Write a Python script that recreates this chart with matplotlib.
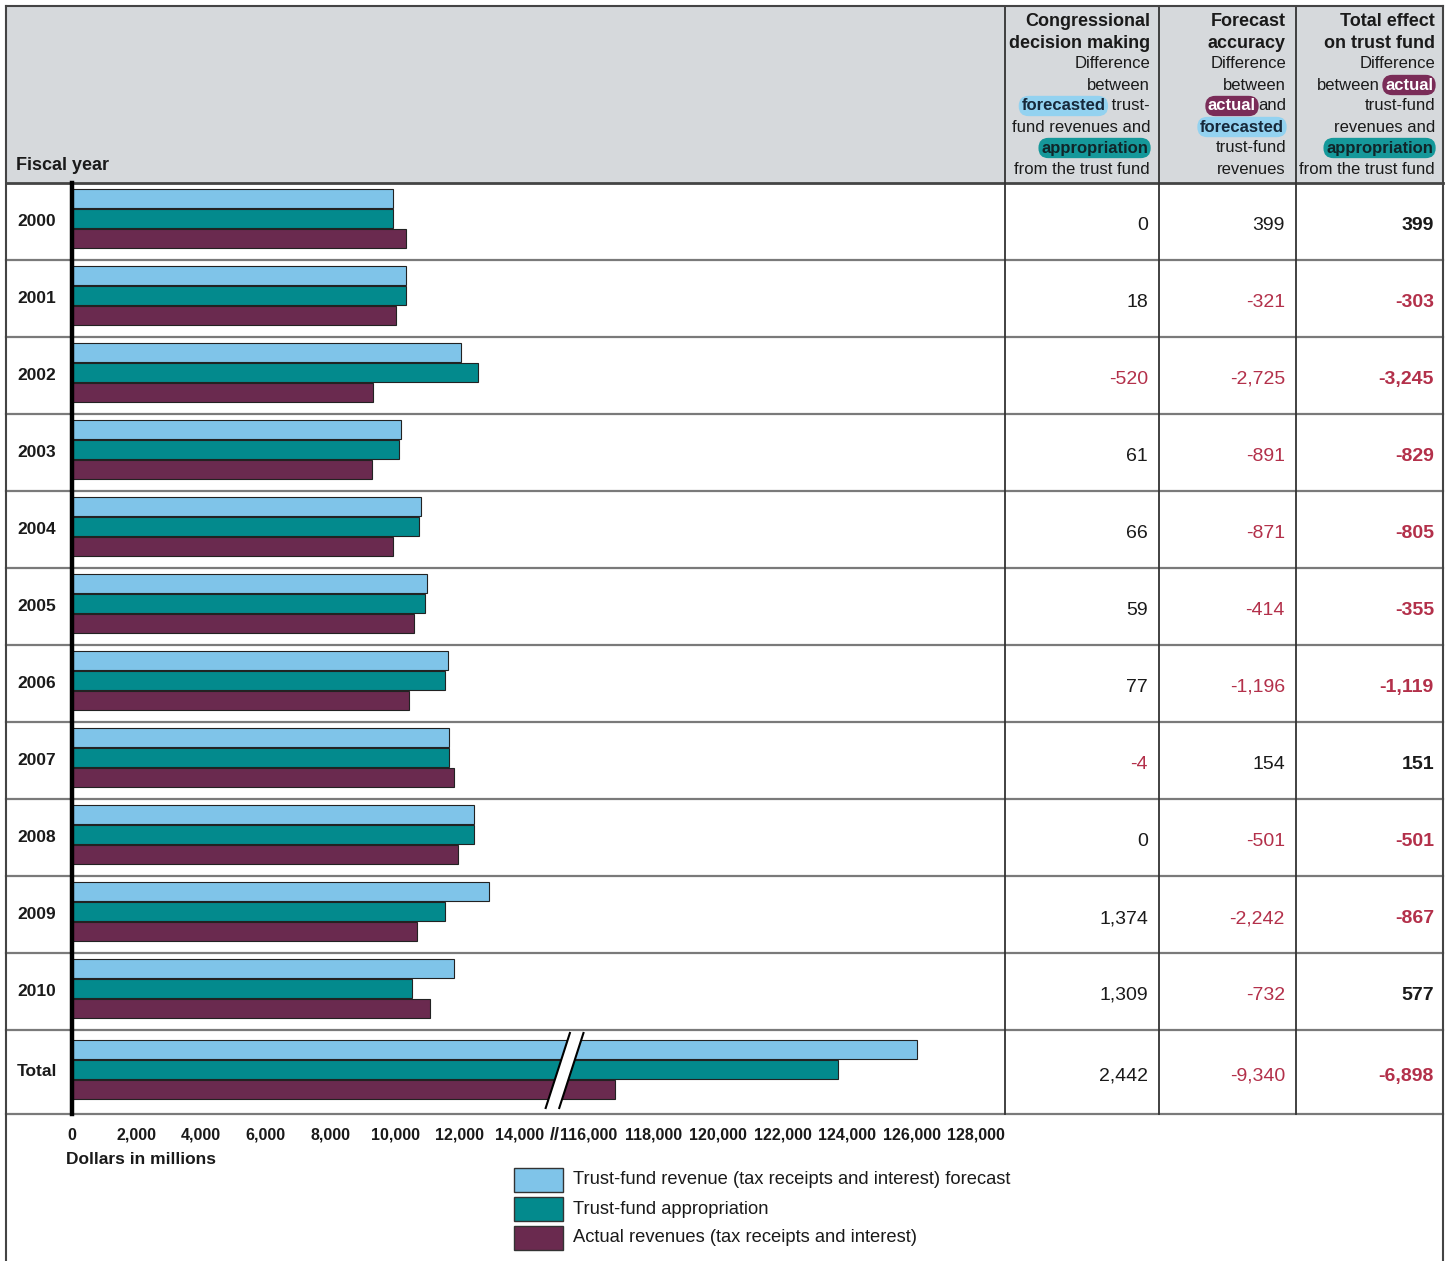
import matplotlib.pyplot as plt
from matplotlib.patches import Rectangle, Polygon

plt.rcParams['font.family'] = ['Liberation Sans', 'DejaVu Sans']

# data (dollars in millions)
years = ['2000', '2001', '2002', '2003', '2004', '2005', '2006', '2007', '2008', '2009', '2010', 'Total']
forecast = [9950, 10345, 12050, 10190, 10810, 11000, 11640, 11680, 12450, 12910, 11830, 126150]
appropriation = [9950, 10327, 12570, 10129, 10744, 10941, 11563, 11684, 12450, 11536, 10521, 123700]
actual = [10349, 10024, 9325, 9299, 9939, 10586, 10444, 11834, 11949, 10668, 11098, 116810]

congress_diff = [0, 18, -520, 61, 66, 59, 77, -4, 0, 1374, 1309, 2442]
accuracy_diff = [399, -321, -2725, -891, -871, -414, -1196, 154, -501, -2242, -732, -9340]
total_diff = [399, -303, -3245, -829, -805, -355, -1119, 151, -501, -867, 577, -6898]

tick_values = [0, 2000, 4000, 6000, 8000, 10000, 12000, 14000,
               116000, 118000, 120000, 122000, 124000, 126000, 128000]

legend_labels = ['Trust-fund revenue (tax receipts and interest) forecast',
                 'Trust-fund appropriation',
                 'Actual revenues (tax receipts and interest)']

LIGHT = '#7fc4e9'
TEAL = '#038a8d'
MAROON = '#6a2a4f'
HEADER_BG = '#d6d9dc'
RED = '#b3304a'
INK = '#1a1a1a'

# axis break: values past 100,000 are drawn 100,000 to the left
BREAK_SHIFT = 100000
BREAK_AT = 15250


def squeeze(v):
    return v - BREAK_SHIFT if v > BREAK_SHIFT else v


def fmt(v):
    return '{:,}'.format(v)


W, H = 1452, 1261
fig = plt.figure(figsize=(W / 100, H / 100), dpi=100)

# full-figure pixel frame for the table
frame = fig.add_axes([0, 0, 1, 1])
frame.set_xlim(0, W)
frame.set_ylim(H, 0)
frame.axis('off')

left, right, top, header_bottom, table_bottom = 6, 1443, 6, 183, 1114
col_lines = [1005, 1159, 1296]
row_edges = [header_bottom + 77 * i for i in range(12)] + [table_bottom]

frame.add_patch(Rectangle((left, top), right - left, header_bottom - top,
                          fc=HEADER_BG, ec='none', zorder=0))
for y in row_edges[1:]:
    frame.plot([left, right], [y, y], color='#7a7a7a', lw=1.6, zorder=1)
frame.plot([left, right], [header_bottom, header_bottom], color='#444444', lw=2, zorder=1)
for x in col_lines:
    frame.plot([x, x], [top, table_bottom], color='#333333', lw=1.3, zorder=1)
frame.plot([left, right], [top, top], color='#444444', lw=1.5, zorder=1)
frame.plot([left, left], [top, H], color='#444444', lw=1.5, zorder=1)
frame.plot([right, right], [top, H], color='#444444', lw=1.5, zorder=1)

frame.text(16, 166, 'Fiscal year', fontsize=13, fontweight='bold', color=INK,
           ha='left', va='center')

renderer = fig.canvas.get_renderer()


def rich_line(x_right, y, segments, size=12):
    x = x_right
    for text, style in reversed(segments):
        if style is None:
            t = frame.text(x, y, text, fontsize=size, color=INK, ha='right', va='center')
            x -= t.get_window_extent(renderer).width
        else:
            fc, tc = style
            t = frame.text(x - 2, y, text, fontsize=size, fontweight='bold', color=tc,
                           ha='right', va='center',
                           bbox=dict(boxstyle='round,pad=0.16,rounding_size=0.6',
                                     fc=fc, ec='none'))
            x -= t.get_window_extent(renderer).width + 7


HL_BLUE = ('#93d2f0', '#16283a')
HL_TEAL = ('#15989a', '#10262a')
HL_MAROON = ('#7a2c58', 'white')

header_ys = [21, 43, 64, 85, 106, 127, 148, 169]
headers = [
    (1150, ['Congressional', 'decision making'],
     [[('Difference', None)], [('between', None)],
      [('forecasted', HL_BLUE), (' trust-', None)],
      [('fund revenues and', None)], [('appropriation', HL_TEAL)],
      [('from the trust fund', None)]]),
    (1286, ['Forecast', 'accuracy'],
     [[('Difference', None)], [('between', None)],
      [('actual', HL_MAROON), ('and', None)], [('forecasted', HL_BLUE)],
      [('trust-fund', None)], [('revenues', None)]]),
    (1435, ['Total effect', 'on trust fund'],
     [[('Difference', None)], [('between', None), ('actual', HL_MAROON)],
      [('trust-fund', None)], [('revenues and', None)],
      [('appropriation', HL_TEAL)], [('from the trust fund', None)]]),
]
for xr, titles, lines in headers:
    for k, t in enumerate(titles):
        frame.text(xr, header_ys[k], t, fontsize=13, fontweight='bold', color=INK,
                   ha='right', va='center')
    for k, segs in enumerate(lines):
        rich_line(xr, header_ys[k + 2], segs)

# table cells
num_x = [1148, 1285, 1434]
for i, yr in enumerate(years):
    cy = (row_edges[i] + row_edges[i + 1]) / 2
    frame.text(37, cy, yr, fontsize=12.5, fontweight='bold', color=INK,
               ha='center', va='center')
    for j, col in enumerate([congress_diff, accuracy_diff, total_diff]):
        v = col[i]
        frame.text(num_x[j], cy + 4, fmt(v), fontsize=14,
                   fontweight='bold' if j == 2 else 'normal',
                   color=RED if v < 0 else INK, ha='right', va='center')

# bar chart
px_per_1000 = 32.3
ax_left, ax_right = 72, 1005
ax = fig.add_axes([ax_left / W, 1 - table_bottom / H,
                   (ax_right - ax_left) / W, (table_bottom - header_bottom) / H])
ax.patch.set_visible(False)
ax.set_xlim(0, (ax_right - ax_left) / px_per_1000 * 1000)
ax.set_ylim(table_bottom, header_bottom)

for i in range(len(years)):
    c = (row_edges[i] + row_edges[i + 1]) / 2 - 3
    for off, vals, colr in [(-20, forecast, LIGHT), (0, appropriation, TEAL), (20, actual, MAROON)]:
        ax.barh(c + off, squeeze(vals[i]), height=19, color=colr,
                edgecolor='#222222', linewidth=0.8, zorder=2)

# break marker on the total row
y_lo, y_hi = row_edges[-1] - 6, row_edges[-2] + 3
slant, gap = 750, 420
x0 = BREAK_AT - slant / 2 - gap / 2
ax.add_patch(Polygon([(x0, y_lo), (x0 + slant, y_hi), (x0 + slant + gap, y_hi), (x0 + gap, y_lo)],
                     closed=True, fc='white', ec='none', zorder=3))
ax.plot([x0, x0 + slant], [y_lo, y_hi], color='black', lw=1.5, zorder=4)
ax.plot([x0 + gap, x0 + slant + gap], [y_lo, y_hi], color='black', lw=1.5, zorder=4)

for s in ['top', 'right', 'bottom']:
    ax.spines[s].set_visible(False)
ax.spines['left'].set_linewidth(3.2)
ax.spines['left'].set_color('black')
ax.spines['left'].set_zorder(5)
ax.set_yticks([])
ax.set_xticks([])

# tick labels drawn by hand so the "14,000//116,000" join fits
tick_y = 1135
for v in tick_values:
    nudge = -130 if v == 14000 else 0
    ax.text(squeeze(v) + nudge, tick_y, fmt(v), fontsize=11.5, fontweight='bold', color=INK,
            ha='center', va='center', clip_on=False)
ax.text(14950, tick_y, '//', fontsize=13, fontweight='bold',
        color=INK, ha='center', va='center', clip_on=False)

frame.text(66, 1160, 'Dollars in millions', fontsize=12.5, fontweight='bold', color=INK,
           ha='left', va='center')

# legend
for k, (lab, colr) in enumerate(zip(legend_labels, [LIGHT, TEAL, MAROON])):
    y = 1168 + 29 * k
    frame.add_patch(Rectangle((514, y), 49, 24, fc=colr, ec='#333333', lw=1))
    frame.text(573, y + 12, lab, fontsize=13.2, color=INK, ha='left', va='center')

fig.savefig('out.png', dpi=100)
